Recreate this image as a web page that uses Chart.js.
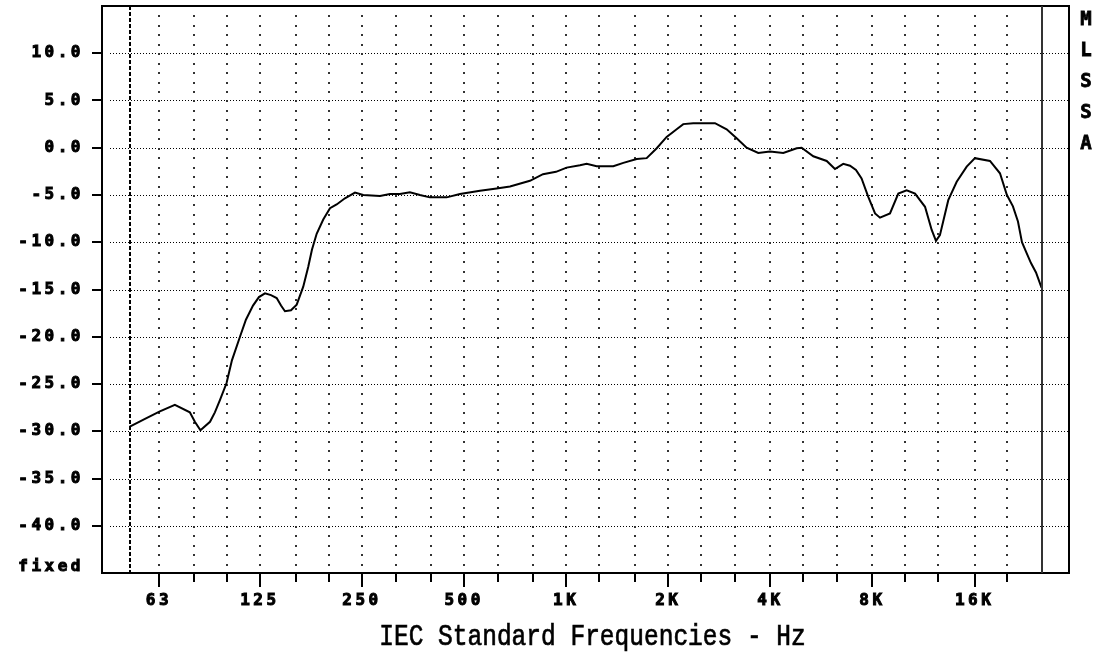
<!DOCTYPE html>
<html>
<head>
<meta charset="utf-8">
<script src="https://cdn.jsdelivr.net/npm/chart.js@4.4.0/dist/chart.umd.min.js"></script>
<style>
  html, body { margin: 0; padding: 0; background: #fff; }
  #wrap { width: 1102px; height: 656px; }
</style>
</head>
<body>
<div id="wrap"><canvas id="chart" width="1102" height="656"></canvas></div>
<script>
// frequency response
const freqHz = [51.7, 57.3, 63.4, 70.2, 77.7, 80.4, 83.5, 89.1, 92.1, 95.3, 99.7, 103.4, 109.2, 113.7, 119.3,
    124.2, 129.4, 134.8, 140.1, 144.3, 148.2, 154.4, 160.5, 167.8, 173.6, 178, 183.8, 192.2, 201.2, 210.5,
    222.7, 238.4, 252.2, 282.5, 302.2, 323.4, 346.2, 370.5, 396.5, 444.2, 486.2, 556.9, 623.8, 682.9, 781.8,
    854.3, 933, 1003, 1098, 1149, 1230, 1377, 1474, 1614, 1727, 1849, 1978, 2117, 2214, 2369, 2746, 2972,
    3181, 3404, 3684, 3988, 4366, 4782, 4946, 5353, 5862, 6201, 6559, 6867, 7151, 7428, 7774, 8140, 8417,
    9009, 9532, 10087, 10679, 11428, 11957, 12310, 12644, 13381, 14169, 15164, 16040, 17760, 19007, 19925,
    20757, 21477, 22068, 22680, 23461, 24274, 25200];
const levelDb = [-29.5, -28.7, -27.9, -27.2, -28.0, -29.0, -29.9, -29.0, -28.0, -26.7, -24.9, -22.5, -20.0, -18.2, -16.7,
    -15.8, -15.4, -15.6, -15.9, -16.7, -17.3, -17.2, -16.6, -14.7, -12.6, -10.8, -9.1, -7.6, -6.4, -6.0,
    -5.35, -4.75, -5.0, -5.1, -4.9, -4.9, -4.7, -5.0, -5.25, -5.25, -4.9, -4.55, -4.3, -4.1, -3.5,
    -2.8, -2.55, -2.1, -1.85, -1.7, -1.95, -1.95, -1.6, -1.2, -1.1, -0.05, 1.15, 1.95, 2.5, 2.6, 2.6, 1.95,
    1.0, 0.0, -0.55, -0.4, -0.55, -0.05, 0.0, -0.9, -1.4, -2.25, -1.7, -1.9, -2.35, -3.25, -5.2, -6.95, -7.4,
    -6.95, -4.85, -4.5, -4.85, -6.25, -8.7, -9.85, -9.25, -5.55, -3.6, -2.0, -1.1, -1.4, -2.7, -5.0,
    -6.2, -7.8, -10.0, -11.0, -12.2, -13.2, -14.8];

// third octave bands (grid) and labelled octaves
const bandHz = [63, 80, 100, 125, 160, 200, 250, 315, 400, 500, 630, 800, 1000, 1250, 1600, 2000,
    2500, 3150, 4000, 5000, 6300, 8000, 10000, 12500, 16000, 20000];
const octaveHz = [63, 125, 250, 500, 1000, 2000, 4000, 8000, 16000];
const octaveLabels = ['63', '125', '250', '500', '1K', '2K', '4K', '8K', '16K'];

const yTickDb = [-40, -35, -30, -25, -20, -15, -10, -5, 0, 5, 10];
const yTickLabels = ['-40.0', '-35.0', '-30.0', '-25.0', '-20.0', '-15.0', '-10.0', '-5.0', '0.0', '5.0', '10.0'];
const fixedDb = -44.4;

const xMinHz = 42.8, xMaxHz = 30370;
const lowLimitHz = 51.7, highLimitHz = 25300;
const yMin = -45, yMax = 15;

const xTitle = 'IEC Standard Frequencies - Hz';
const sideLetters = ['M', 'L', 'S', 'S', 'A'];

const tickFont = { family: '"DejaVu Sans Mono", monospace', size: 16, weight: 'bold' };

const frame = {
    id: 'frame',
    beforeDraw(chart) {
        chart.ctx.letterSpacing = '3.5px';
    },
    beforeDatasetsDraw(chart) {
        const { ctx, chartArea: a, scales: { x, y } } = chart;
        ctx.save();
        ctx.fillStyle = '#000';
        // dotted dB lines
        yTickDb.forEach(v => {
            const py = Math.round(y.getPixelForValue(v));
            for (let px = a.left + 8; px < a.right; px += 3) ctx.fillRect(px, py, 1, 1);
        });
        // dotted band lines, one dot per dB
        ctx.fillStyle = '#333';
        bandHz.forEach(f => {
            const px = Math.round(x.getPixelForValue(f));
            for (let d = yMax - 1; d > yMin; d--) ctx.fillRect(px - 1, Math.round(y.getPixelForValue(d)), 2, 2);
        });
        // dashed low limit
        const lx = Math.round(x.getPixelForValue(lowLimitHz));
        ctx.strokeStyle = '#000';
        ctx.lineWidth = 2;
        ctx.setLineDash([4, 2]);
        ctx.beginPath();
        ctx.moveTo(lx, a.top);
        ctx.lineTo(lx, a.bottom);
        ctx.stroke();
        ctx.restore();
    },
    afterDatasetsDraw(chart) {
        const { ctx, chartArea: a, scales: { x, y } } = chart;
        ctx.save();
        ctx.strokeStyle = '#000';
        ctx.fillStyle = '#000';
        ctx.lineWidth = 2;
        ctx.strokeRect(a.left, a.top, a.right - a.left, a.bottom - a.top);
        // upper limit line
        const hx = Math.round(x.getPixelForValue(highLimitHz));
        ctx.strokeStyle = '#333';
        ctx.beginPath();
        ctx.moveTo(hx, a.top);
        ctx.lineTo(hx, a.bottom);
        ctx.stroke();
        // tick marks
        yTickDb.forEach(v => {
            const py = Math.round(y.getPixelForValue(v));
            ctx.fillRect(a.left - 10, py - 1, 10, 2);
        });
        bandHz.forEach(f => {
            const px = Math.round(x.getPixelForValue(f));
            const len = octaveHz.includes(f) ? 14 : 9;
            ctx.fillRect(px - 1, a.bottom, 2, len);
        });
        ctx.restore();
    },
    afterDraw(chart) {
        const { ctx, chartArea: a } = chart;
        ctx.save();
        ctx.letterSpacing = '0px';
        ctx.fillStyle = '#000';
        ctx.strokeStyle = '#000';
        ctx.textAlign = 'center';
        ctx.textBaseline = 'middle';
        // axis title, condensed like the original bitmap font
        ctx.save();
        ctx.translate((a.left + a.right) / 2 + 7, 637);
        ctx.scale(0.817, 1);
        ctx.font = '30px "Liberation Mono", monospace';
        ctx.lineWidth = 0.7;
        ctx.fillText(xTitle, 0, 0);
        ctx.strokeText(xTitle, 0, 0);
        ctx.restore();
        ctx.font = 'bold 19px "DejaVu Sans Mono", monospace';
        ctx.lineWidth = 0.8;
        sideLetters.forEach((ch, i) => {
            ctx.fillText(ch, a.right + 17, 20 + i * 31);
            ctx.strokeText(ch, a.right + 17, 20 + i * 31);
        });
        ctx.restore();
        ctx.letterSpacing = '0px';
    }
};

Chart.defaults.color = '#000';

new Chart(document.getElementById('chart'), {
    type: 'line',
    data: {
        datasets: [{
            data: freqHz.map((f, i) => ({ x: f, y: levelDb[i] })),
            borderColor: '#000',
            borderWidth: 2,
            pointRadius: 0,
            tension: 0,
            fill: false
        }]
    },
    options: {
        responsive: false,
        animation: false,
        devicePixelRatio: 1,
        layout: { padding: { left: 0, right: 33, top: 6, bottom: 0 } },
        plugins: { legend: { display: false }, tooltip: { enabled: false } },
        scales: {
            x: {
                type: 'logarithmic',
                min: xMinHz,
                max: xMaxHz,
                offset: false,
                grid: { display: false, drawTicks: false },
                border: { display: false },
                afterBuildTicks: s => { s.ticks = bandHz.map(v => ({ value: v })); },
                afterFit: s => {
                    s.height = 83;
                    s.paddingLeft = 0;
                    s.paddingRight = 0;
                },
                ticks: {
                    autoSkip: false,
                    maxRotation: 0,
                    padding: 18,
                    font: tickFont,
                    textStrokeColor: '#000',
                    textStrokeWidth: 1,
                    callback: v => {
                        const i = octaveHz.indexOf(v);
                        return i < 0 ? '' : octaveLabels[i];
                    }
                }
            },
            y: {
                min: yMin,
                max: yMax,
                grid: { display: false, drawTicks: false },
                border: { display: false },
                afterBuildTicks: s => {
                    s.ticks = [{ value: fixedDb }].concat(yTickDb.map(v => ({ value: v })));
                },
                afterFit: s => {
                    s.width = 102;
                    s.paddingTop = 0;
                    s.paddingBottom = 0;
                },
                ticks: {
                    autoSkip: false,
                    padding: 18,
                    font: tickFont,
                    textStrokeColor: '#000',
                    textStrokeWidth: 1,
                    callback: v => {
                        const i = yTickDb.indexOf(v);
                        return i < 0 ? 'fixed' : yTickLabels[i];
                    }
                }
            }
        }
    },
    plugins: [frame]
});
</script>
</body>
</html>
